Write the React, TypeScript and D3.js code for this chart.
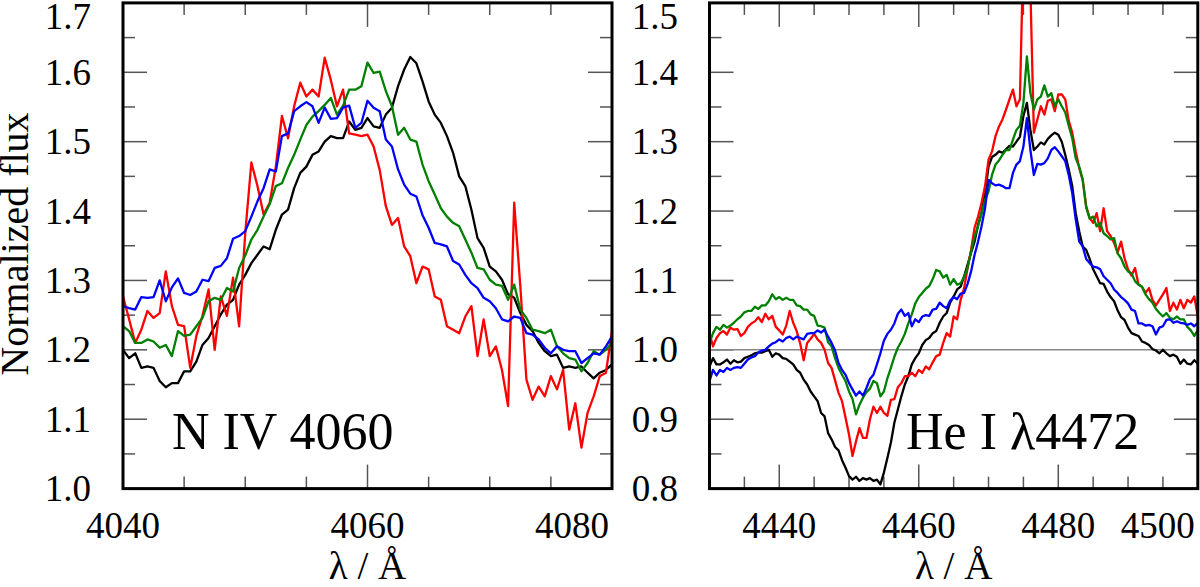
import React from 'react';
import * as d3 from 'd3';

// ---------- data ----------
const leftStart = 4040;
const rightStart = 4430;
const step = 0.5;

const leftBlack = [
  1.200, 1.188, 1.195, 1.174, 1.176, 1.174, 1.155, 1.146, 1.152, 1.152,
  1.169, 1.169, 1.183, 1.207, 1.217, 1.234, 1.251, 1.265, 1.272, 1.294,
  1.308, 1.325, 1.337, 1.349, 1.345, 1.373, 1.395, 1.402, 1.433, 1.455,
  1.464, 1.481, 1.486, 1.500, 1.508, 1.505, 1.505, 1.529, 1.517, 1.520,
  1.534, 1.522, 1.520, 1.539, 1.549, 1.580, 1.604, 1.622, 1.613, 1.587,
  1.558, 1.539, 1.527, 1.508, 1.484, 1.450, 1.436, 1.402, 1.361, 1.347,
  1.320, 1.313, 1.301, 1.280, 1.275, 1.253, 1.236, 1.227, 1.210, 1.198,
  1.191, 1.193, 1.174, 1.176, 1.174, 1.176, 1.167, 1.159, 1.167, 1.171,
  1.179,
];
const leftRed = [
  1.277, 1.244, 1.210, 1.229, 1.256, 1.246, 1.253, 1.313, 1.263, 1.236,
  1.234, 1.174, 1.220, 1.249, 1.287, 1.200, 1.277, 1.249, 1.304, 1.234,
  1.368, 1.470, 1.436, 1.395, 1.412, 1.464, 1.537, 1.505, 1.551, 1.585,
  1.565, 1.575, 1.565, 1.621, 1.589, 1.551, 1.575, 1.512, 1.510, 1.508,
  1.510, 1.493, 1.459, 1.407, 1.380, 1.390, 1.349, 1.335, 1.296, 1.320,
  1.316, 1.277, 1.272, 1.234, 1.229, 1.224, 1.248, 1.263, 1.191, 1.244,
  1.191, 1.205, 1.171, 1.119, 1.412, 1.292, 1.157, 1.128, 1.147, 1.133,
  1.162, 1.143, 1.171, 1.085, 1.123, 1.059, 1.109, 1.133, 1.162, 1.167,
  1.227,
];
const leftGreen = [
  1.234, 1.227, 1.210, 1.210, 1.215, 1.212, 1.203, 1.207, 1.191, 1.227,
  1.220, 1.222, 1.234, 1.246, 1.270, 1.275, 1.272, 1.289, 1.284, 1.318,
  1.336, 1.359, 1.373, 1.392, 1.410, 1.436, 1.440, 1.462, 1.481, 1.503,
  1.524, 1.536, 1.544, 1.553, 1.563, 1.539, 1.552, 1.575, 1.575, 1.580,
  1.614, 1.599, 1.601, 1.573, 1.551, 1.510, 1.520, 1.503, 1.500, 1.467,
  1.443, 1.424, 1.404, 1.392, 1.383, 1.378, 1.359, 1.340, 1.318, 1.316,
  1.301, 1.294, 1.292, 1.272, 1.294, 1.258, 1.246, 1.229, 1.227, 1.224,
  1.229, 1.205, 1.195, 1.188, 1.186, 1.169, 1.181, 1.198, 1.193, 1.200,
  1.210,
];
const leftBlue = [
  1.263, 1.260, 1.258, 1.276, 1.275, 1.276, 1.300, 1.270, 1.290, 1.303,
  1.282, 1.279, 1.284, 1.301, 1.299, 1.318, 1.321, 1.332, 1.360, 1.364,
  1.371, 1.392, 1.414, 1.433, 1.460, 1.457, 1.508, 1.512, 1.544, 1.551,
  1.557, 1.551, 1.527, 1.549, 1.533, 1.534, 1.549, 1.552, 1.520, 1.527,
  1.559, 1.549, 1.544, 1.503, 1.493, 1.460, 1.438, 1.425, 1.421, 1.394,
  1.376, 1.354, 1.352, 1.349, 1.328, 1.323, 1.308, 1.296, 1.289, 1.275,
  1.270, 1.260, 1.244, 1.241, 1.248, 1.246, 1.224, 1.222, 1.215, 1.203,
  1.195, 1.205, 1.200, 1.198, 1.198, 1.181, 1.188, 1.195, 1.193, 1.205,
  1.219,
];

const rightBlack = [
  0.976, 0.988, 0.979, 0.979, 0.982, 0.986, 0.980, 0.985, 0.982, 0.983,
  0.988, 0.990, 0.992, 0.995, 0.996, 0.996, 0.998, 1.000, 0.990, 0.995,
  0.993, 0.988, 0.987, 0.983, 0.979, 0.971, 0.967, 0.957, 0.950, 0.940,
  0.933, 0.926, 0.909, 0.904, 0.880, 0.871, 0.860, 0.855, 0.841, 0.830,
  0.818, 0.813, 0.817, 0.811, 0.815, 0.813, 0.815, 0.811, 0.813, 0.806,
  0.823, 0.844, 0.866, 0.895, 0.914, 0.933, 0.950, 0.962, 0.979, 0.988,
  0.995, 1.007, 1.014, 1.017, 1.024, 1.027, 1.039, 1.048, 1.053, 1.068,
  1.077, 1.087, 1.091, 1.106, 1.123, 1.140, 1.156, 1.180, 1.197, 1.226,
  1.264, 1.278, 1.281, 1.286, 1.284, 1.289, 1.294, 1.293, 1.300, 1.307,
  1.337, 1.356, 1.317, 1.288, 1.293, 1.299, 1.296, 1.304, 1.309, 1.313,
  1.310, 1.300, 1.281, 1.260, 1.236, 1.197, 1.171, 1.149, 1.144, 1.131,
  1.116, 1.106, 1.096, 1.095, 1.084, 1.076, 1.070, 1.057, 1.047, 1.043,
  1.032, 1.024, 1.022, 1.020, 1.012, 1.010, 1.007, 1.001, 0.999, 0.995,
  1.000, 0.995, 0.991, 0.993, 0.990, 0.980, 0.986, 0.980, 0.979, 0.985,
  0.980,
];
const rightRed = [
  1.024, 1.005, 1.017, 1.024, 1.027, 1.022, 1.032, 1.029, 1.030, 1.020,
  1.024, 1.033, 1.038, 1.041, 1.047, 1.040, 1.052, 1.044, 1.049, 1.033,
  1.028, 1.022, 1.035, 1.056, 1.039, 1.027, 1.009, 0.985, 1.010, 1.016,
  1.023, 1.015, 1.010, 1.000, 0.981, 0.974, 0.956, 0.938, 0.926, 0.902,
  0.878, 0.847, 0.868, 0.887, 0.873, 0.873, 0.900, 0.918, 0.909, 0.918,
  0.909, 0.905, 0.928, 0.929, 0.946, 0.952, 0.962, 0.962, 0.967, 0.962,
  0.971, 0.967, 0.976, 0.972, 0.982, 0.991, 0.993, 1.010, 1.024, 1.019,
  1.048, 1.044, 1.072, 1.089, 1.118, 1.144, 1.176, 1.192, 1.212, 1.236,
  1.274, 1.286, 1.308, 1.322, 1.332, 1.346, 1.361, 1.375, 1.351, 1.361,
  1.580, 1.660, 1.520, 1.313, 1.332, 1.351, 1.339, 1.359, 1.361, 1.344,
  1.368, 1.368, 1.361, 1.330, 1.313, 1.286, 1.262, 1.245, 1.207, 1.190,
  1.183, 1.197, 1.171, 1.204, 1.171, 1.164, 1.154, 1.140, 1.156, 1.132,
  1.116, 1.107, 1.118, 1.094, 1.091, 1.082, 1.089, 1.072, 1.064, 1.072,
  1.080, 1.089, 1.056, 1.068, 1.058, 1.072, 1.060, 1.072, 1.068, 1.077,
  1.048,
];
const rightGreen = [
  1.010, 1.024, 1.033, 1.029, 1.036, 1.032, 1.035, 1.039, 1.044, 1.048,
  1.054, 1.056, 1.056, 1.062, 1.059, 1.064, 1.064, 1.070, 1.080, 1.073,
  1.076, 1.072, 1.075, 1.072, 1.072, 1.064, 1.063, 1.058, 1.058, 1.051,
  1.049, 1.035, 1.034, 1.032, 1.011, 1.005, 0.988, 0.974, 0.964, 0.955,
  0.940, 0.929, 0.907, 0.921, 0.931, 0.939, 0.944, 0.955, 0.952, 0.933,
  0.940, 0.959, 0.974, 0.990, 1.003, 1.012, 1.023, 1.038, 1.051, 1.067,
  1.076, 1.082, 1.088, 1.092, 1.102, 1.115, 1.113, 1.104, 1.108, 1.094,
  1.102, 1.094, 1.096, 1.105, 1.118, 1.142, 1.163, 1.178, 1.197, 1.216,
  1.228, 1.252, 1.267, 1.273, 1.281, 1.288, 1.288, 1.303, 1.317, 1.323,
  1.356, 1.423, 1.370, 1.346, 1.361, 1.365, 1.381, 1.365, 1.370, 1.351,
  1.361, 1.351, 1.342, 1.323, 1.305, 1.276, 1.264, 1.245, 1.205, 1.189,
  1.192, 1.178, 1.183, 1.168, 1.164, 1.159, 1.161, 1.139, 1.132, 1.120,
  1.113, 1.110, 1.099, 1.094, 1.091, 1.080, 1.073, 1.068, 1.059, 1.053,
  1.048, 1.053, 1.046, 1.044, 1.048, 1.044, 1.044, 1.033, 1.028, 1.020,
  1.029,
];
const rightBlue = [
  0.955, 0.971, 0.963, 0.971, 0.968, 0.974, 0.971, 0.974, 0.975, 0.974,
  0.980, 0.986, 0.989, 0.991, 0.996, 0.999, 1.000, 1.005, 1.009, 1.011,
  1.015, 1.012, 1.017, 1.019, 1.015, 1.019, 1.017, 1.015, 1.023, 1.024,
  1.024, 1.028, 1.025, 1.029, 1.019, 1.010, 0.999, 0.981, 0.971, 0.964,
  0.952, 0.943, 0.934, 0.940, 0.934, 0.945, 0.958, 0.964, 0.979, 0.995,
  1.013, 1.023, 1.029, 1.038, 1.052, 1.058, 1.049, 1.053, 1.034, 1.044,
  1.040, 1.048, 1.050, 1.049, 1.058, 1.059, 1.068, 1.063, 1.060, 1.071,
  1.076, 1.073, 1.081, 1.082, 1.095, 1.113, 1.137, 1.156, 1.178, 1.204,
  1.245, 1.240, 1.237, 1.238, 1.236, 1.233, 1.233, 1.255, 1.267, 1.272,
  1.293, 1.334, 1.288, 1.252, 1.268, 1.267, 1.269, 1.276, 1.288, 1.292,
  1.286, 1.279, 1.272, 1.252, 1.226, 1.188, 1.156, 1.149, 1.131, 1.125,
  1.120, 1.119, 1.116, 1.106, 1.101, 1.096, 1.087, 1.082, 1.076, 1.072,
  1.067, 1.058, 1.056, 1.038, 1.038, 1.035, 1.036, 1.034, 1.022, 1.032,
  1.034, 1.043, 1.044, 1.039, 1.041, 1.039, 1.038, 1.036, 1.038, 1.034,
  1.039,
];

const leftXTicks = [4040, 4060, 4080];
const rightXTicks = [4440, 4460, 4480, 4500];
const leftYTicks = ['1.0', '1.1', '1.2', '1.3', '1.4', '1.5', '1.6', '1.7'];
const rightYTicks = ['0.8', '0.9', '1.0', '1.1', '1.2', '1.3', '1.4', '1.5'];

const seriesColors = ['#000000', '#ff0000', '#008000', '#0000ff'];

const FONT = '"Liberation Serif", "Times New Roman", Times, serif';

type PanelProps = {
  id: string;
  x0: number;
  x1: number;
  xDomain: [number, number];
  yDomain: [number, number];
  start: number;
  series: number[][];
  xTicks: number[];
  yTicks: string[];
  yLabelX: number;
  label: string;
  labelX: number;
  refLine?: number;
};

const Y_TOP = 2.9;
const Y_BOT = 488.6;

function Panel(p: PanelProps) {
  const x = d3.scaleLinear().domain(p.xDomain).range([p.x0, p.x1]);
  const y = d3.scaleLinear().domain(p.yDomain).range([Y_BOT, Y_TOP]);
  const line = d3
    .line<number>()
    .x((_, i) => x(p.start + i * step))
    .y((d) => y(d));

  const minorX = d3.range(p.xDomain[0], p.xDomain[1] + 0.001, 5);
  const minorY = d3.range(0, 15).map((i) => p.yDomain[0] + i * 0.05);
  const isMajorX = (v: number) => Math.abs(v % 20) < 1e-6;
  const tickColor = '#555';
  const longT = 24;
  const shortT = 12;

  return (
    <g>
      <defs>
        <clipPath id={`clip-${p.id}`}>
          <rect x={p.x0} y={Y_TOP} width={p.x1 - p.x0} height={Y_BOT - Y_TOP} />
        </clipPath>
      </defs>
      <g stroke={tickColor} strokeWidth={1.5}>
        {minorX.map((v, i) => {
          const len = isMajorX(v) ? longT : shortT;
          const xx = x(v);
          return (
            <g key={`xt${i}`}>
              <line x1={xx} x2={xx} y1={Y_BOT} y2={Y_BOT - len} />
              <line x1={xx} x2={xx} y1={Y_TOP} y2={Y_TOP + len} />
            </g>
          );
        })}
        {minorY.map((v, i) => {
          const len = i % 2 === 0 ? longT : shortT;
          const yy = y(v);
          return (
            <g key={`yt${i}`}>
              <line x1={p.x0} x2={p.x0 + len} y1={yy} y2={yy} />
              <line x1={p.x1} x2={p.x1 - len} y1={yy} y2={yy} />
            </g>
          );
        })}
      </g>
      {p.refLine !== undefined && (
        <line
          x1={p.x0}
          x2={p.x1}
          y1={y(p.refLine)}
          y2={y(p.refLine)}
          stroke="#888"
          strokeWidth={1.5}
        />
      )}
      <g clipPath={`url(#clip-${p.id})`} fill="none" strokeWidth={2.3} strokeLinejoin="round">
        {p.series.map((s, i) => (
          <path key={i} d={line(s) || ''} stroke={seriesColors[i]} />
        ))}
      </g>
      <rect
        x={p.x0}
        y={Y_TOP}
        width={p.x1 - p.x0}
        height={Y_BOT - Y_TOP}
        fill="none"
        stroke="#000"
        strokeWidth={3}
      />
      <g fontFamily={FONT} fontSize={37} fill="#000">
        {p.xTicks.map((v, i) => {
          const last = i === p.xTicks.length - 1;
          return (
            <text
              key={`xl${i}`}
              x={last ? x(v) - 3 : x(v)}
              y={538}
              textAnchor={last ? 'end' : 'middle'}
            >
              {v}
            </text>
          );
        })}
        {p.yTicks.map((t, i) => {
          const last = i === p.yTicks.length - 1;
          const yy = y(parseFloat(t));
          return (
            <text key={`yl${i}`} x={p.yLabelX} y={last ? 29 : yy + 12.5} textAnchor="end">
              {t}
            </text>
          );
        })}
      </g>
      <text
        x={(p.x0 + p.x1) / 2}
        y={579}
        textAnchor="middle"
        fontFamily={FONT}
        fontSize={39}
      >
        λ / Å
      </text>
      <text x={p.labelX} y={449} fontFamily={FONT} fontSize={52}>
        {p.label}
      </text>
    </g>
  );
}

export default function App() {
  return (
    <svg
      width={1200}
      height={587}
      viewBox="0 0 1200 587"
      style={{ position: 'absolute', left: 0, top: 0, background: '#fff' }}
    >
      <rect x={0} y={0} width={1200} height={587} fill="#fff" />
      <Panel
        id="left"
        x0={123}
        x1={612}
        xDomain={[4040, 4080]}
        yDomain={[1.0, 1.7]}
        start={leftStart}
        series={[leftBlack, leftRed, leftGreen, leftBlue]}
        xTicks={leftXTicks}
        yTicks={leftYTicks}
        yLabelX={91}
        label="N IV 4060"
        labelX={172}
      />
      <Panel
        id="right"
        x0={709.5}
        x1={1197.8}
        xDomain={[4430, 4500]}
        yDomain={[0.8, 1.5]}
        start={rightStart}
        series={[rightBlack, rightRed, rightGreen, rightBlue]}
        xTicks={rightXTicks}
        yTicks={rightYTicks}
        yLabelX={678}
        label="He I λ4472"
        labelX={906}
        refLine={1.0}
      />
      <text
        transform="translate(28,244) rotate(-90)"
        textAnchor="middle"
        fontFamily={FONT}
        fontSize={40}
      >
        Normalized flux
      </text>
    </svg>
  );
}
